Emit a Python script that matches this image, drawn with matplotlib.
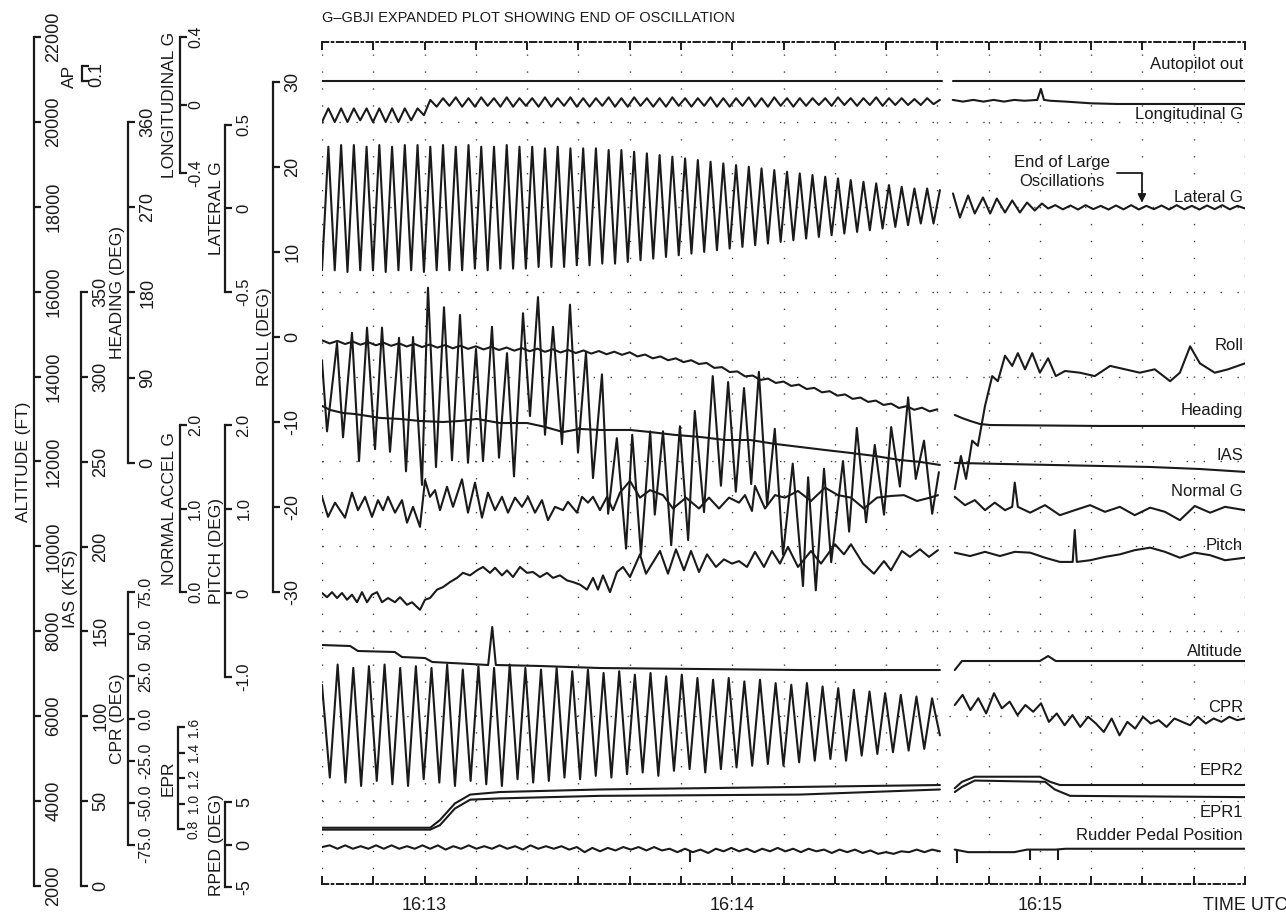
import numpy as np
import matplotlib.pyplot as plt

plt.rcParams['font.family'] = ['Liberation Sans', 'DejaVu Sans']
plt.rcParams['lines.scale_dashes'] = False

W, H = 1286, 913
INK = '#1a1a1a'

# ---------------- data (time = seconds after 16:12:40 UTC) ----------------
ap_pre_t, ap_pre_v = [0, 120.9], [0, 0]
ap_post_t, ap_post_v = [123.0, 180], [0, 0]

# longitudinal G, sampled every half cycle
long_pre_v = [-0.10, -0.02, -0.10, -0.02, -0.10, -0.02, -0.09, -0.02, -0.10, -0.02,
              -0.10, -0.02, -0.10, -0.02, -0.09, -0.02, -0.06, 0.03,
              -0.01, 0.04, -0.005, 0.045, -0.01, 0.04, -0.01, 0.045, -0.005, 0.04,
              -0.01, 0.045, -0.01, 0.04, -0.005, 0.04, -0.01, 0.045, -0.01, 0.04,
              -0.005, 0.045, -0.01, 0.04, -0.01, 0.04, -0.005, 0.045, -0.01, 0.04,
              -0.01, 0.045, -0.005, 0.04, -0.01, 0.04, -0.01, 0.045, -0.005, 0.04,
              -0.01, 0.04, -0.005, 0.045, -0.01, 0.04, -0.01, 0.04, -0.005, 0.045,
              -0.01, 0.04, -0.01, 0.045, -0.005, 0.04, -0.01, 0.04, -0.005, 0.04,
              0.0, 0.04, -0.005, 0.045, 0.0, 0.04, -0.005, 0.04, 0.0, 0.045,
              -0.005, 0.04, 0.0, 0.04, 0.0, 0.035, 0.0, 0.04, 0.005, 0.03]
long_post_t = [123.0, 125, 127, 129, 131, 133, 135, 137, 139.5, 140.2, 140.8, 142, 145, 150, 155, 160, 170, 180]
long_post_v = [0.03, 0.02, 0.03, 0.02, 0.03, 0.02, 0.03, 0.025, 0.03, 0.094, 0.03, 0.025, 0.02, 0.01, 0.006, 0.006, 0.006, 0.006]

# lateral G, peaks and troughs of each cycle
lat_peaks = [0.37, 0.38, 0.38, 0.37, 0.38, 0.37, 0.38, 0.38, 0.37, 0.38,
             0.37, 0.38, 0.37, 0.37, 0.38, 0.37, 0.37, 0.36, 0.37, 0.36,
             0.36, 0.36, 0.35, 0.35, 0.34, 0.33, 0.32, 0.31, 0.30, 0.29,
             0.28, 0.27, 0.26, 0.25, 0.24, 0.23, 0.22, 0.21, 0.20, 0.19,
             0.18, 0.17, 0.16, 0.15, 0.14, 0.13, 0.12, 0.12, 0.11]
lat_troughs = [-0.37, -0.37, -0.38, -0.37, -0.37, -0.38, -0.37, -0.37, -0.38, -0.37,
               -0.37, -0.37, -0.36, -0.37, -0.36, -0.36, -0.36, -0.35, -0.35, -0.35,
               -0.34, -0.34, -0.33, -0.33, -0.32, -0.31, -0.30, -0.29, -0.28, -0.27,
               -0.26, -0.25, -0.24, -0.23, -0.22, -0.21, -0.20, -0.19, -0.18, -0.17,
               -0.16, -0.15, -0.14, -0.13, -0.12, -0.11, -0.10, -0.09, -0.09]
lat_post_t = [123.05, 124.4, 126.0, 127.3, 128.9, 130.3, 131.6, 133.2, 134.6, 136.1, 137.5, 139.0, 140.4, 141.6]
lat_post_v = [0.09, -0.054, 0.078, -0.03, 0.066, -0.03, 0.06, -0.024, 0.048, -0.024, 0.036, -0.012, 0.03, 0.0]
lat_tail_v = [0.02, -0.005, 0.018, -0.006, 0.02, -0.004, 0.016, -0.006, 0.018, -0.005, 0.02, -0.006, 0.016,
              -0.004, 0.018, -0.006, 0.02, -0.005, 0.016, -0.006, 0.018, -0.004, 0.02, -0.005, 0.016, 0.0]

# roll (deg)
roll_pre_t = [0, 0.98, 2.93, 4.10, 5.85, 7.22, 8.78, 10.34, 11.70, 13.26, 15.02, 16.38, 17.75, 19.50,
              20.67, 22.23, 23.79, 25.35, 26.91, 28.47, 30.03, 31.40, 33.15, 34.52, 36.08, 37.44,
              39.20, 40.56, 42.12, 43.49, 45.05, 46.80, 48.36, 49.92, 51.48, 52.85, 54.60, 55.8,
              57.5, 59.3, 60.5, 62.2, 64.0, 64.9, 66.5, 68.1, 69.8, 71.4, 72.7, 74.5, 76.2, 77.8,
              79.2, 80.7, 82.3, 83.7, 85.2, 86.8, 88.3, 89.9, 91.8, 93.8, 94.8, 96.3, 97.9, 99.3,
              101.6, 102.8, 104.3, 106.1, 107.8, 109.6, 111.0, 112.7, 114.3, 115.8, 117.4, 119.0, 120.3]
roll_pre_v = [-2.8, -11.1, -0.7, -11.8, 0.5, -14.6, 1.1, -13.2, 1.1, -13.5, -0.1, -15.8, 0.0, -17.4,
              5.8, -15.3, 3.5, -14.5, 2.6, -14.8, -1.4, -14.6, 1.2, -14.2, -1.9, -16.4,
              2.8, -9.3, 4.7, -11.5, 1.2, -12.6, 3.8, -13.6, -1.8, -16.6, -4.4, -20.8,
              -11.9, -24.9, -11.5, -25.6, -11.1, -20.9, -11.1, -24.5, -10.5, -23.9, -8.7, -20.6, -4.6, -17.5,
              -5.3, -18.2, -6.0, -17.3, -4.1, -19.8, -10.8, -25.6, -14.9, -29.3, -16.5, -29.8, -15.5, -26.5,
              -14.6, -22.9, -10.7, -21.8, -12.7, -20.9, -10.6, -17.6, -7.1, -16.7, -12.2, -20.8, -15.9]
roll_post_t = [123.4, 124.6, 125.6, 126.8, 127.9, 129.3, 130.7, 131.8, 133.2, 134.6, 135.7, 137.1, 138.5,
               140.0, 141.6, 143.1, 144.9, 147.8, 150.7, 153.7, 156.6, 159.5, 162.4, 165.4, 167.3,
               169.3, 171.2, 174.1, 176.7, 180]
roll_post_v = [-17.9, -14.0, -16.7, -12.2, -12.8, -8.1, -4.6, -5.2, -2.2, -3.4, -1.9, -3.8, -1.9,
               -4.2, -2.5, -4.6, -4.0, -4.2, -4.6, -3.4, -3.8, -4.2, -3.8, -5.2, -4.2,
               -1.1, -3.1, -4.2, -3.8, -3.1]

# heading (deg), sampled every 1.5 s
hdg_pre_v = [129.5, 126.2, 128.9, 125.6, 128.2, 124.9, 127.6, 124.3, 127.0, 123.7,
             126.4, 123.0, 125.7, 122.4, 125.1, 121.8, 124.5, 121.1, 123.8, 120.5,
             123.2, 119.9, 122.6, 119.3, 121.9, 118.6, 121.3, 118.0, 120.7, 117.4,
             120.1, 116.7, 119.4, 116.1, 118.8, 115.5, 118.2, 114.8, 117.5, 114.2,
             116.9, 112.5, 114.5, 110.5, 112.5, 108.5, 110.5, 106.5, 108.5, 104.5,
             105.6, 100.4, 101.2, 96.0, 96.7, 91.5, 92.3, 87.7, 89.1, 84.5,
             86.0, 81.4, 82.8, 78.1, 79.3, 74.6, 75.8, 71.1, 72.4, 67.7,
             69.1, 64.5, 65.9, 61.3, 62.7, 58.1, 60.0, 56.2, 58.4, 54.5, 56.7]
hdg_post_t = [123.4, 124.8, 126.4, 128.3, 130.3, 151.7, 180]
hdg_post_v = [50.7, 47.5, 44.4, 41.2, 40.1, 39.1, 39.1]

# indicated airspeed (kt)
ias_pre_t = [0, 1.6, 4.1, 6.4, 8.8, 11.3, 15.2, 19.1, 23.6, 26.9, 30.2, 34.7, 40.0, 43.5, 47.0, 50.3,
             54.2, 60.1, 64.0, 68.8, 73.7, 78.6, 83.5, 88.3, 93.2, 98.1, 103.0, 107.8, 112.7, 116.6, 120.5]
ias_pre_v = [282.9, 280.5, 278.7, 278.1, 277.0, 275.8, 275.2, 274.0, 273.4, 274.0, 275.2, 272.8, 272.8,
             270.5, 267.5, 269.3, 268.7, 268.7, 267.5, 265.8, 264.6, 262.8, 262.8, 260.5, 258.7, 256.9,
             255.2, 253.4, 251.0, 249.9, 248.1]
ias_post_t = [123.4, 132.2, 142.0, 151.7, 161.5, 171.2, 180]
ias_post_v = [249.3, 248.7, 248.1, 247.5, 246.9, 245.7, 244.0]

# normal acceleration (g)
ng_pre_t = [0, 1.17, 2.54, 3.51, 4.49, 5.85, 7.02, 8.39, 9.75, 10.92, 11.90, 12.87, 14.24, 15.60, 16.58,
            17.75, 19.11, 20.09, 21.06, 22.04, 23.01, 24.38, 25.55, 27.30, 28.47, 29.84, 31.20, 32.37,
            33.74, 35.10, 36.27, 37.64, 39.00, 40.17, 41.54, 42.90, 44.07, 45.44, 47.00, 47.97, 49.73,
            50.70, 51.87, 52.85, 54.21, 55.58, 56.75, 58.11, 60.06, 62.01, 63.96, 66.50, 68.45, 70.98,
            73.52, 75.47, 77.42, 79.37, 81.32, 82.49, 83.85, 84.44, 86.39, 88.34, 90.29, 92.82, 95.36,
            98.09, 100.62, 103.16, 105.69, 108.23, 110.96, 113.49, 116.03, 118.56, 120.12]
ng_pre_v = [1.14, 0.90, 1.07, 0.98, 0.89, 1.19, 0.98, 1.14, 0.90, 1.10, 0.98, 1.14, 0.95, 1.10, 0.83,
            1.02, 0.78, 1.34, 1.14, 1.22, 0.98, 1.26, 1.02, 1.35, 0.95, 1.31, 0.89, 1.19,
            0.98, 1.14, 0.95, 1.13, 1.02, 1.14, 0.95, 1.10, 0.86, 1.02, 0.98, 1.08, 0.95,
            1.14, 1.07, 1.14, 0.98, 1.14, 0.98, 1.19, 1.33, 1.13, 1.22, 1.16, 1.00, 1.13,
            1.00, 1.13, 1.00, 1.13, 1.07, 1.16, 0.97, 1.27, 1.00, 1.16, 1.13, 1.21, 1.09,
            1.25, 1.16, 1.13, 1.00, 1.13, 1.15, 1.16, 1.09, 1.13, 1.16]
ng_post_t = [123.4, 125.4, 127.3, 129.3, 131.2, 133.2, 134.6, 135.1, 135.7, 138.1, 141.0, 143.9, 146.8,
             149.8, 152.7, 155.6, 158.5, 161.5, 164.4, 167.3, 170.2, 173.2, 176.1, 180]
ng_post_v = [1.14, 1.04, 1.10, 0.98, 1.07, 0.98, 1.02, 1.31, 1.02, 0.95, 1.04, 0.92, 0.98,
             1.04, 0.96, 1.02, 0.92, 1.01, 0.96, 0.86, 1.03, 0.95, 1.02, 0.98]

# pitch (deg)
pitch_pre_t = [0, 0.98, 1.95, 2.93, 3.90, 4.88, 5.85, 6.83, 7.80, 8.78, 9.75, 10.73, 11.70, 12.87, 14.24,
               15.21, 16.58, 17.55, 19.11, 20.09, 21.06, 22.43, 23.60, 24.96, 26.33, 27.50, 28.86, 30.23,
               31.40, 32.76, 33.74, 35.10, 36.08, 37.25, 38.61, 39.98, 41.15, 42.51, 43.88, 45.05, 46.41,
               47.78, 48.95, 50.31, 51.68, 52.85, 53.82, 54.80, 56.16, 57.53, 58.70, 60.06, 62.01, 63.18,
               65.91, 67.47, 69.03, 70.59, 71.96, 73.52, 75.08, 76.83, 78.39, 79.95, 81.32, 82.88, 84.44,
               86.19, 87.75, 89.31, 90.87, 92.82, 95.36, 97.31, 100.04, 101.79, 103.16, 105.50, 107.64,
               109.59, 110.96, 113.10, 114.66, 116.61, 118.37, 120.12]
pitch_pre_v = [0.0, -0.05, 0.01, -0.06, 0.0, -0.08, -0.02, -0.11, 0.01, -0.11, -0.02, 0.01, -0.11, -0.06, -0.11,
               -0.05, -0.14, -0.11, -0.20, -0.08, -0.06, 0.04, 0.07, 0.13, 0.18, 0.24, 0.21, 0.27,
               0.31, 0.24, 0.30, 0.21, 0.27, 0.19, 0.31, 0.24, 0.25, 0.19, 0.24, 0.18, 0.21,
               0.15, 0.13, 0.10, 0.04, 0.18, 0.04, 0.21, 0.01, 0.25, 0.31, 0.19, 0.46, 0.23,
               0.50, 0.23, 0.52, 0.27, 0.50, 0.25, 0.46, 0.31, 0.40, 0.35, 0.38, 0.31, 0.49,
               0.31, 0.50, 0.35, 0.55, 0.31, 0.50, 0.35, 0.58, 0.46, 0.58, 0.35, 0.23,
               0.38, 0.27, 0.50, 0.43, 0.52, 0.43, 0.51]
pitch_post_t = [123.4, 126.4, 129.3, 132.2, 135.1, 138.1, 141.0, 143.9, 146.4, 146.8, 147.2, 149.8, 152.7,
                155.6, 158.5, 161.5, 164.4, 167.3, 170.2, 173.2, 176.1, 180]
pitch_post_v = [0.48, 0.44, 0.49, 0.44, 0.49, 0.48, 0.42, 0.37, 0.37, 0.75, 0.37, 0.39, 0.43,
                0.46, 0.51, 0.54, 0.49, 0.42, 0.48, 0.45, 0.39, 0.42]

# altitude (ft)
alt_pre_t = [0, 5.5, 7.0, 14.2, 15.6, 20.1, 21.5, 28.9, 32.4, 33.2, 33.9, 42.5, 54.2, 73.7, 93.2, 120.5]
alt_pre_v = [7677, 7653, 7536, 7512, 7394, 7370, 7277, 7230, 7206, 8101, 7206, 7183, 7135, 7112, 7088, 7088]
alt_post_t = [123.4, 124.8, 140.0, 141.6, 143.1, 180]
alt_post_v = [7088, 7300, 7300, 7418, 7300, 7300]

# control wheel position (deg), every half cycle
cpr_pre_v = [20, -35, 32, -38, 30, -40, 31, -37, 32, -39, 30, -40, 31, -36, 30, -38, 32, -40, 29, -37,
             31, -39, 30, -40, 32, -36, 30, -38, 29, -37, 30, -35, 28, -36, 29, -34, 27, -35, 28, -33,
             26, -32, 27, -34, 25, -31, 26, -30, 24, -32, 23, -30, 24, -29, 22, -28, 23, -27, 21, -28,
             20, -26, 21, -25, 19, -24, 18, -25, 17, -22, 16, -21, 15, -20, 14, -19, 13, -18, 12, -10]
cpr_post_v = [8, 14, 5, 12, 3, 15, 6, 10, 2, 8, 4, 9, -2, 3, -4, 2, -5, 1, -3, -8,
              0, -10, -2, -6, 1, -3, -1, -5, 0, -2, -4, 1, -3, 0, -2, 1, -1, 0]

# engine pressure ratios
epr_pre_t = [0, 21.1, 23.0, 25.9, 28.9, 34.7, 54.2, 93.2, 120.5]
epr2_pre_v = [0.81, 0.81, 0.87, 1.00, 1.07, 1.09, 1.11, 1.13, 1.145]
epr1_pre_v = [0.795, 0.795, 0.83, 0.96, 1.03, 1.04, 1.06, 1.07, 1.11]
epr2_post_t = [123.4, 124.8, 127.3, 140.0, 142.0, 143.9, 180]
epr2_post_v = [1.12, 1.17, 1.21, 1.21, 1.17, 1.145, 1.145]
epr1_post_t = [123.4, 124.8, 127.3, 141.0, 142.9, 145.9, 180]
epr1_post_v = [1.09, 1.13, 1.18, 1.17, 1.11, 1.06, 1.05]

# rudder pedal (deg)
rud_pre_v = [-0.3, -0.1, -0.5, -0.1, -0.5, -0.2, -0.5, -0.1, -0.5, -0.1,
             -0.5, -0.2, -0.5, -0.1, -0.5, -0.1, -0.6, -0.2, -0.5, -0.1,
             -0.5, -0.2, -0.5, -0.1, -0.5, -0.2, -0.6, -0.1, -0.5, -0.2,
             -0.5, -0.2, -0.6, -0.3, -0.9, -0.4, -0.8, -0.4, -0.7, -0.3,
             -0.6, -0.3, -0.7, -0.3, -0.7, -0.5, -0.9, -0.5, -0.9, -0.6,
             -1.0, -0.5, -0.8, -0.4, -0.8, -0.5, -0.9, -0.5, -0.8, -0.4,
             -0.8, -0.5, -0.9, -0.5, -0.8, -0.6, -1.0, -0.6, -0.9, -0.6,
             -1.0, -0.7, -1.1, -0.9, -1.1, -0.8, -0.9, -0.6, -0.9, -0.6, -0.8]
rud_post_t = [123.4, 126.0, 130.0, 135.0, 137.5, 139.0, 143.0, 145.0, 150.0, 160.0, 170.0, 180.0]
rud_post_v = [-0.6, -0.9, -0.9, -0.9, -0.6, -0.6, -0.6, -0.5, -0.5, -0.5, -0.5, -0.5]
rud_spike_t = [71.8, 123.8, 138.1, 143.5]
rud_spike_base = [-0.8, -0.6, -0.6, -0.6]
rud_spike_v = [-2.1, -2.2, -1.8, -1.8]

# ---------------- scale calibration: (value, pixel row) pairs ----------------
ALT = ((2000, 886), (22000, 37))
IAS = ((0, 886), (350, 292))
HDG = ((0, 463), (360, 122))
APC = ((0, 81), (1, 66))
LONG = ((-0.4, 173), (0.4, 37))
LAT = ((-0.5, 292), (0.5, 125))
ROLL = ((-30, 592), (30, 82))
NRM = ((0, 592), (2, 425))
PIT = ((-1, 677), (2, 425))
CPR = ((-75, 845), (75, 592))
EPR = ((0.8, 829), (1.6, 727))
RPD = ((-5, 887), (5, 802))

X0, X1, YT, YB = 322, 1245, 42, 884

fig = plt.figure(figsize=(W / 100, H / 100), dpi=100)


def val_at(cal, p):
    (va, pa), (vb, pb) = cal
    return va + (p - pa) * (vb - va) / (pb - pa)


def px_at(cal, v):
    (va, pa), (vb, pb) = cal
    return pa + (v - va) * (pb - pa) / (vb - va)


def rect(x0, ytop, x1, ybot):
    return [x0 / W, 1 - ybot / H, (x1 - x0) / W, (ybot - ytop) / H]


ax = fig.add_axes(rect(X0, YT, X1, YB))
ax.set_xlim(0, 180)
ax.set_yticks([])
for s in ('left', 'right'):
    ax.spines[s].set_visible(False)
for s in ('top', 'bottom'):
    ax.spines[s].set_linewidth(1.4)
    ax.spines[s].set_linestyle((0, (4.5, 2.5, 1.2, 2.5)))
    ax.spines[s].set_color(INK)
ticks = list(range(0, 181, 10))
names = {20: '16:13', 80: '16:14', 140: '16:15', 180: 'TIME UTC'}
ax.set_xticks(ticks)
ax.set_xticklabels([names.get(t, '') for t in ticks])
ax.tick_params(axis='x', direction='in', length=6, width=1.4, top=True, bottom=True,
               labelsize=13, pad=9, colors=INK)


def layer(cal, name):
    a = fig.add_axes(rect(X0, YT, X1, YB), label=name)
    a.set_xlim(0, 180)
    a.set_ylim(val_at(cal, YB), val_at(cal, YT))
    a.axis('off')
    a.patch.set_visible(False)
    return a


def trace(a, t, v, lw=1.5):
    a.plot(t, v, color=INK, lw=lw, solid_joinstyle='round', solid_capstyle='round')


# dotted grid
g = layer(ALT, 'grid')
for t in ticks:
    g.plot([t, t], [22000, 2000], color='#444444', lw=1.0, ls=(0, (1.0, 11.2)))
for a_ in range(4000, 20001, 2000):
    g.plot([0, 180], [a_, a_], color='#444444', lw=1.0, ls=(0, (1.0, 11.2)))

# traces
a = layer(APC, 'ap')
trace(a, ap_pre_t, ap_pre_v)
trace(a, ap_post_t, ap_post_v)

a = layer(LONG, 'long')
trace(a, np.linspace(0, 120.5, len(long_pre_v)), long_pre_v)
trace(a, long_post_t, long_post_v)

a_lat = layer(LAT, 'lat')
lat_pre_v = [x for pair in zip(lat_troughs, lat_peaks) for x in pair]
trace(a_lat, np.linspace(0, 120.5, len(lat_pre_v)), lat_pre_v)
trace(a_lat, lat_post_t + list(np.linspace(143.0, 180, len(lat_tail_v))), lat_post_v + lat_tail_v)

a = layer(ROLL, 'roll')
trace(a, roll_pre_t, roll_pre_v)
trace(a, roll_post_t, roll_post_v)

a = layer(HDG, 'hdg')
trace(a, np.linspace(0, 120, len(hdg_pre_v)), hdg_pre_v)
trace(a, hdg_post_t, hdg_post_v)

a = layer(IAS, 'ias')
trace(a, ias_pre_t, ias_pre_v)
trace(a, ias_post_t, ias_post_v)

a = layer(NRM, 'nrm')
trace(a, ng_pre_t, ng_pre_v)
trace(a, ng_post_t, ng_post_v)

a = layer(PIT, 'pitch')
trace(a, pitch_pre_t, pitch_pre_v)
trace(a, pitch_post_t, pitch_post_v)

a = layer(ALT, 'alt')
trace(a, alt_pre_t, alt_pre_v)
trace(a, alt_post_t, alt_post_v)

a = layer(CPR, 'cpr')
trace(a, np.linspace(0, 120.5, len(cpr_pre_v)), cpr_pre_v)
trace(a, np.linspace(123.4, 180, len(cpr_post_v)), cpr_post_v)

a = layer(EPR, 'epr')
trace(a, epr_pre_t, epr2_pre_v)
trace(a, epr_pre_t, epr1_pre_v)
trace(a, epr2_post_t, epr2_post_v)
trace(a, epr1_post_t, epr1_post_v)

a = layer(RPD, 'rped')
trace(a, np.linspace(0, 120.5, len(rud_pre_v)), rud_pre_v)
trace(a, rud_post_t, rud_post_v)
a.vlines(rud_spike_t, rud_spike_base, rud_spike_v, color=INK, lw=1.5)

# annotation for end of oscillations
fig.text(1062 / W, 1 - 162 / H, 'End of Large', ha='center', va='center', fontsize=12, color=INK)
fig.text(1062 / W, 1 - 182 / H, 'Oscillations', ha='center', va='center', fontsize=12, color=INK)
a_lat.annotate('', xy=(159.9, 0.035), xytext=(155.0, 0.21),
               arrowprops=dict(arrowstyle='-|>', color=INK, lw=1.3, shrinkA=0, shrinkB=0,
                               mutation_scale=12,
                               connectionstyle='angle,angleA=0,angleB=90,rad=0'))

# right-hand trace names
right_labels = [('Autopilot out', 65), ('Longitudinal G', 115), ('Lateral G', 197), ('Roll', 345),
                ('Heading', 410), ('IAS', 455), ('Normal G', 491), ('Pitch', 545), ('Altitude', 651),
                ('CPR', 707), ('EPR2', 770), ('EPR1', 812), ('Rudder Pedal Position', 836)]
for txt, yp in right_labels:
    fig.text(1243 / W, 1 - yp / H, txt, ha='right', va='center', fontsize=12, color=INK)

fig.text(X0 / W, 1 - 18 / H, 'G\u2013GBJI EXPANDED PLOT SHOWING END OF OSCILLATION',
         ha='left', va='center', fontsize=10.5, color=INK)


# left-hand scales
def scale(x, cal, tks, labels, title, lpad=2, size=13, pad=8):
    lo, hi = min(tks), max(tks)
    p_lo, p_hi = px_at(cal, lo), px_at(cal, hi)
    s = fig.add_axes([x / W, 1 - p_lo / H, 0.0002, (p_lo - p_hi) / H], label=title)
    s.set_ylim(lo, hi)
    s.patch.set_visible(False)
    for k in ('top', 'right', 'bottom'):
        s.spines[k].set_visible(False)
    s.spines['left'].set_linewidth(1.6)
    s.spines['left'].set_color(INK)
    s.set_xticks([])
    s.set_yticks(tks)
    s.set_yticklabels(labels, rotation=90, va='center')
    s.tick_params(axis='y', left=True, right=False, labelleft=False, labelright=True,
                  direction='in', length=5, width=1.6, pad=pad, labelsize=size, colors=INK)
    if title:
        s.set_ylabel(title, fontsize=12.5, labelpad=lpad, color=INK)
    return s


scale(34, ALT, list(range(2000, 22001, 2000)), [str(v) for v in range(2000, 22001, 2000)], 'ALTITUDE (FT)')
scale(81, IAS, list(range(0, 351, 50)), [str(v) for v in range(0, 351, 50)], 'IAS (KTS)')
scale(82, APC, [0, 1], ['', ''], '')
fig.text(97 / W, 1 - 74 / H, '0.1', rotation=90, ha='center', va='center', fontsize=13, color=INK)
fig.text(69 / W, 1 - 76 / H, 'AP', rotation=90, ha='center', va='center', fontsize=12.5, color=INK)
scale(128, HDG, [0, 90, 180, 270, 360], ['0', '90', '180', '270', '360'], 'HEADING (DEG)')
scale(128, CPR, [-75, -50, -25, 0, 25, 50, 75],
      ['-75.0', '-50.0', '-25.0', '0.0', '25.0', '50.0', '75.0'], 'CPR (DEG)', size=11.5, pad=7)
scale(180, LONG, [-0.4, 0, 0.4], ['-0.4', '0', '0.4'], 'LONGITUDINAL G', size=11.5, pad=5.5)
scale(180, NRM, [0, 1, 2], ['0.0', '1.0', '2.0'], 'NORMAL ACCEL G', size=11.5, pad=5.5)
scale(178, EPR, [0.8, 1.0, 1.2, 1.4, 1.6], ['0.8', '1.0', '1.2', '1.4', '1.6'], 'EPR', size=10, pad=6)
scale(225, LAT, [-0.5, 0, 0.5], ['-0.5', '0', '0.5'], 'LATERAL G', lpad=0.5, size=12)
scale(225, PIT, [-1, 0, 1, 2], ['-1.0', '0', '1.0', '2.0'], 'PITCH (DEG)', lpad=0.5, size=12)
scale(225, RPD, [-5, 0, 5], ['-5', '0', '5'], 'RPED (DEG)', lpad=0.5)
scale(273, ROLL, [-30, -20, -10, 0, 10, 20, 30], ['-30', '-20', '-10', '0', '10', '20', '30'], 'ROLL (DEG)',
      lpad=1)

fig.savefig('out.png', dpi=100)
